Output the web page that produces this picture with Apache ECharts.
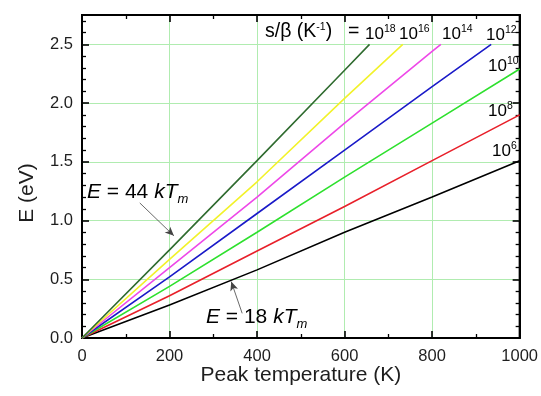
<!DOCTYPE html>
<html>
<head>
<meta charset="utf-8">
<script src="https://cdn.jsdelivr.net/npm/echarts@6/dist/echarts.min.js"></script>
<style>
html, body { margin: 0; padding: 0; background: #fff; }
#chart { width: 541px; height: 396px; }
</style>
</head>
<body>
<div id="chart"></div>
<script>
// Peak temperature (K) samples
const temps = [0, 200, 400, 600, 800, 1000];
// E (eV) per heating-rate ratio s/beta; curves stop where they reach 2.5 eV
const e1e6 = [0, 0.28, 0.58, 0.90, 1.20, 1.51];
const e1e8 = [0, 0.36, 0.74, 1.12, 1.51, 1.90];
const e1e10 = [0, 0.44, 0.90, 1.37, 1.83, 2.29];
const e1e12 = [0, 0.52, 1.06, 1.60, 2.14];
const e1e14 = [0, 0.60, 1.20, 1.83, 2.44];
const e1e16 = [0, 0.67, 1.33, 2.04];
const e1e18 = [0, 0.75, 1.51, 2.28];
// end point (T, E) of the clipped curves
const end1e12 = [935, 2.5];
const end1e14 = [820, 2.5];
const end1e16 = [733, 2.5];
const end1e18 = [657, 2.5];

const xTicks = [0, 200, 400, 600, 800, 1000];
const yTicks = [0.0, 0.5, 1.0, 1.5, 2.0, 2.5];

function pts(vals, end) {
  const out = vals.map((v, i) => [temps[i], v]);
  if (end) out.push(end);
  return out;
}

const FONT = '"Liberation Sans", Arial, sans-serif';
const INK = '#1e1e1e';
const gridGreen = '#b0ecb0';

const lines = [
  { name: '1e6', data: pts(e1e6), color: '#000000' },
  { name: '1e8', data: pts(e1e8), color: '#e8202a' },
  { name: '1e10', data: pts(e1e10), color: '#2ee02e' },
  { name: '1e12', data: pts(e1e12, end1e12), color: '#1a1ac8' },
  { name: '1e14', data: pts(e1e14, end1e14), color: '#ee48e8' },
  { name: '1e16', data: pts(e1e16, end1e16), color: '#f2f22a' },
  { name: '1e18', data: pts(e1e18, end1e18), color: '#2f6b2f' },
];

const series = lines.map(l => ({
  name: l.name,
  type: 'line',
  data: l.data,
  showSymbol: false,
  lineStyle: { color: l.color, width: 1.6 },
  z: 3,
}));

// arrows for the two annotations (on the mirror axes, same scales)
series.push({
  type: 'line',
  xAxisIndex: 1,
  yAxisIndex: 1,
  data: [],
  markLine: {
    silent: true,
    symbol: ['none', 'arrow'],
    symbolSize: [6, 9],
    label: { show: false },
    lineStyle: { color: '#444', width: 0.8, type: 'solid' },
    data: [
      [{ coord: [132, 1.15] }, { coord: [210, 0.87] }],
      [{ coord: [366, 0.21] }, { coord: [341, 0.48] }],
    ],
  },
});

const rich = {
  t: { fontFamily: FONT, fontSize: 17, color: INK },
  b: { fontFamily: FONT, fontSize: 19.5, color: INK },
  sup: { fontFamily: FONT, fontSize: 10.5, color: INK, verticalAlign: 'top', padding: [0, 0, 9, 0] },
};
const richE = {
  i: { fontFamily: FONT, fontSize: 21, fontStyle: 'italic', color: INK },
  n: { fontFamily: FONT, fontSize: 21, color: INK },
  sub: { fontFamily: FONT, fontSize: 13, fontStyle: 'italic', color: INK, padding: [13, 0, 0, 0] },
};

function txt(left, top, text, r) {
  return { type: 'text', left, top, z: 10, style: { text, rich: r } };
}

const tickStyle = {
  axisLine: { show: true, onZero: false, lineStyle: { color: '#000', width: 2 } },
  axisTick: { show: true, inside: true, length: 7, lineStyle: { color: '#000', width: 1.6 } },
};
const minorX = { show: true, splitNumber: 2, length: 4, lineStyle: { color: '#000', width: 1.3 } };
const minorY = { show: true, splitNumber: 5, length: 4, lineStyle: { color: '#000', width: 1.3 } };

const chart = echarts.init(document.getElementById('chart'), null, { renderer: 'canvas' });
chart.setOption({
  animation: false,
  backgroundColor: '#fff',
  grid: { left: 82, right: 19, top: 15, bottom: 58, show: true, borderColor: '#000', borderWidth: 2, backgroundColor: 'transparent' },
  xAxis: [
    {
      type: 'value', position: 'bottom', min: 0, max: 1000, interval: 200,
      name: 'Peak temperature (K)', nameLocation: 'middle', nameGap: 27, nameMoveOverlap: false,
      nameTextStyle: { fontFamily: FONT, fontSize: 21, color: INK, verticalAlign: 'top' },
      ...tickStyle,
      minorTick: minorX,
      axisLabel: { fontFamily: FONT, fontSize: 16.5, color: INK, margin: 10,
        formatter: v => xTicks.includes(v) ? String(v) : '' },
      splitLine: { show: true, lineStyle: { color: gridGreen, width: 1 } },
    },
    {
      type: 'value', position: 'top', min: 0, max: 1000, interval: 200,
      ...tickStyle,
      minorTick: minorX,
      axisLabel: { show: false },
      splitLine: { show: false },
    },
  ],
  yAxis: [
    {
      type: 'value', position: 'left', min: 0, max: 2.75, interval: 0.5,
      ...tickStyle,
      minorTick: minorY,
      axisLabel: { fontFamily: FONT, fontSize: 16.5, color: INK, margin: 9,
        formatter: v => yTicks.some(t => Math.abs(t - v) < 1e-6) ? v.toFixed(1) : '' },
      splitLine: { show: true, lineStyle: { color: gridGreen, width: 1 } },
    },
    {
      type: 'value', position: 'right', min: 0, max: 2.75, interval: 0.5,
      ...tickStyle,
      minorTick: minorY,
      axisLabel: { show: false },
      splitLine: { show: false },
    },
  ],
  graphic: [
    {
      type: 'text', x: 27, y: 193, rotation: Math.PI / 2, z: 10,
      style: { text: 'E (eV)', fontFamily: FONT, fontSize: 21, fill: INK, textAlign: 'center', textVerticalAlign: 'middle' },
    },
    txt(265, 22, '{b|s/β (K}{sup|-1}{b|)}', rich),
    txt(348, 22, '{b|=}', rich),
    txt(365, 24, '{t|10}{sup|18}', rich),
    txt(399, 24, '{t|10}{sup|16}', rich),
    txt(442, 24, '{t|10}{sup|14}', rich),
    txt(486, 25, '{t|10}{sup|12}', rich),
    txt(488, 56, '{t|10}{sup|10}', rich),
    txt(488, 101, '{t|10}{sup|8}', rich),
    txt(492, 141, '{t|10}{sup|6}', rich),
    txt(87, 182, '{i|E}{n| = 44 }{i|kT}{sub|m}', richE),
    txt(206, 307, '{i|E}{n| = 18 }{i|kT}{sub|m}', richE),
  ],
  series,
});
</script>
</body>
</html>
